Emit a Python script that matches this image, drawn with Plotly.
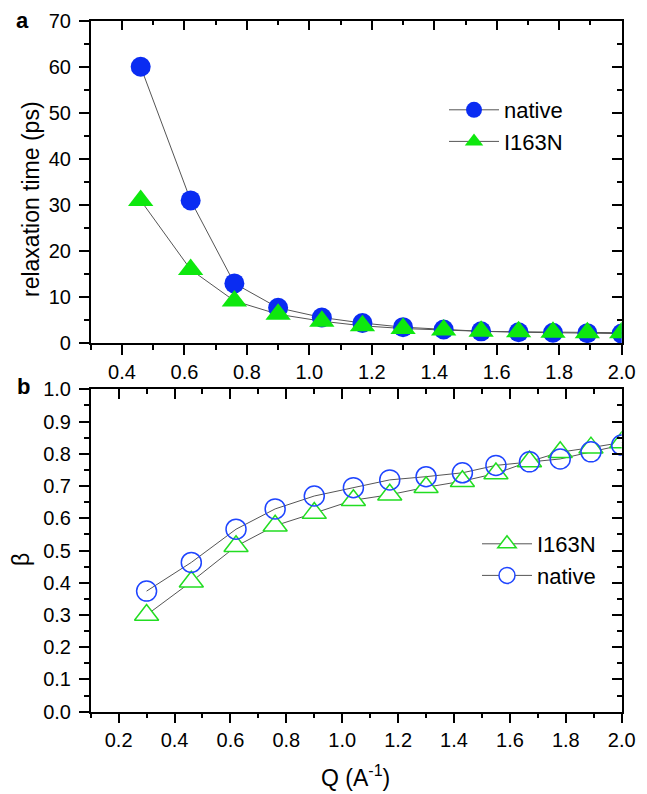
import plotly.graph_objects as go

# Scattering vector Q (A^-1)
q_tau = [0.46, 0.62, 0.76, 0.90, 1.04, 1.17, 1.30, 1.43, 1.55, 1.67, 1.78, 1.89, 2.00]
q_beta = [0.30, 0.46, 0.62, 0.76, 0.90, 1.04, 1.17, 1.30, 1.43, 1.55, 1.67, 1.78, 1.89, 2.00]

# Relaxation times (ps)
tau_native = [60.0, 31.0, 13.0, 7.7, 5.6, 4.4, 3.5, 3.0, 2.6, 2.4, 2.3, 2.2, 2.1]
tau_i163n = [31.0, 16.0, 9.2, 6.3, 4.8, 3.8, 3.2, 2.9, 2.6, 2.5, 2.4, 2.3, 2.3]

# Stretching exponent beta
beta_native = [0.374, 0.463, 0.566, 0.629, 0.669, 0.695, 0.719, 0.729, 0.741, 0.764, 0.775, 0.784, 0.806, 0.827]
beta_i163n = [0.300, 0.403, 0.513, 0.577, 0.616, 0.656, 0.673, 0.696, 0.715, 0.739, 0.776, 0.805, 0.819, 0.835]

W, H = 647, 794
FONT = "Arial, Liberation Sans, sans-serif"
BLUE = "#0a2cf2"
GREEN = "#0ee80e"
BLUE_O = "#1f45ff"
GREEN_O = "#22dd22"
LINE = "#555555"


def px_x(v):
    return v / W


def px_y(v):
    return 1 - v / H


fig = go.Figure()

# ---- panel a: relaxation time ----
for yv in (tau_native, tau_i163n):
    fig.add_trace(go.Scatter(x=q_tau, y=yv, mode="lines", line=dict(color=LINE, width=1),
                             showlegend=False, hoverinfo="skip", xaxis="x", yaxis="y"))
fig.add_trace(go.Scatter(x=q_tau, y=tau_native, mode="markers",
                         marker=dict(symbol="circle", size=20, color=BLUE, line=dict(width=0)),
                         showlegend=False, xaxis="x", yaxis="y"))
fig.add_trace(go.Scatter(x=q_tau, y=tau_i163n, mode="markers",
                         marker=dict(symbol="triangle-up", size=22, color=GREEN, line=dict(width=0)),
                         showlegend=False, xaxis="x", yaxis="y"))
fig.add_trace(go.Scatter(x=[None], y=[None], mode="lines+markers", name="native",
                         line=dict(color=LINE, width=1),
                         marker=dict(symbol="circle", size=20, color=BLUE, line=dict(width=0)),
                         legend="legend", xaxis="x", yaxis="y"))
fig.add_trace(go.Scatter(x=[None], y=[None], mode="lines+markers", name="I163N",
                         line=dict(color=LINE, width=1),
                         marker=dict(symbol="triangle-up", size=22, color=GREEN, line=dict(width=0)),
                         legend="legend", xaxis="x", yaxis="y"))

# ---- panel b: stretching exponent ----
for yv in (beta_i163n, beta_native):
    fig.add_trace(go.Scatter(x=q_beta, y=yv, mode="lines", line=dict(color=LINE, width=1),
                             showlegend=False, hoverinfo="skip", xaxis="x2", yaxis="y2"))
fig.add_trace(go.Scatter(x=q_beta, y=beta_i163n, mode="markers",
                         marker=dict(symbol="triangle-up", size=21, color="white",
                                     line=dict(color=GREEN_O, width=1.5)),
                         showlegend=False, xaxis="x2", yaxis="y2"))
fig.add_trace(go.Scatter(x=q_beta, y=beta_native, mode="markers",
                         marker=dict(symbol="circle", size=20, color="rgba(255,255,255,0)",
                                     line=dict(color=BLUE_O, width=1.5)),
                         showlegend=False, xaxis="x2", yaxis="y2"))
fig.add_trace(go.Scatter(x=[None], y=[None], mode="lines+markers", name="I163N",
                         line=dict(color=LINE, width=1),
                         marker=dict(symbol="triangle-up", size=21, color="white",
                                     line=dict(color=GREEN_O, width=1.5)),
                         legend="legend2", xaxis="x2", yaxis="y2"))
fig.add_trace(go.Scatter(x=[None], y=[None], mode="lines+markers", name="native",
                         line=dict(color=LINE, width=1),
                         marker=dict(symbol="circle", size=20, color="white",
                                     line=dict(color=BLUE_O, width=1.5)),
                         legend="legend2", xaxis="x2", yaxis="y2"))

# carrier traces for the inward ticks on the top / right frame edges
fig.add_trace(go.Scatter(x=[None], y=[None], showlegend=False, hoverinfo="skip", xaxis="x3", yaxis="y3"))
fig.add_trace(go.Scatter(x=[None], y=[None], showlegend=False, hoverinfo="skip", xaxis="x4", yaxis="y4"))

dom_x = [px_x(90.7), px_x(621.7)]
dom_a = [px_y(343.3), px_y(20.7)]
dom_b = [px_y(711.7), px_y(389.3)]


def axis(rng, dtick, mdtick, ticks="outside", labels=True, **kw):
    d = dict(range=rng, dtick=dtick, tick0=0, ticks=ticks, ticklen=10, tickwidth=1.5,
             tickcolor="black", showline=True, linewidth=1.5, linecolor="black",
             showgrid=False, zeroline=False, showticklabels=labels, automargin=False,
             tickfont=dict(family=FONT, size=20, color="black"),
             minor=dict(dtick=mdtick, ticks=ticks, ticklen=5, tickwidth=1.5, tickcolor="black",
                        showgrid=False))
    d.update(kw)
    return d


fig.update_layout(
    width=W, height=H,
    margin=dict(l=0, r=0, t=0, b=0),
    paper_bgcolor="white", plot_bgcolor="white",
    font=dict(family=FONT, color="black"),
    hovermode=False,
    xaxis=axis([0.3, 2.0], 0.2, 0.1, domain=dom_x, anchor="y", tickformat=".1f"),
    yaxis=axis([0, 70], 10, 5, domain=dom_a, anchor="x", ticklabelstandoff=4),
    xaxis2=axis([0.1, 2.0], 0.2, 0.1, domain=dom_x, anchor="y2", tickformat=".1f"),
    yaxis2=axis([0, 1.0], 0.1, 0.05, domain=dom_b, anchor="x2", tickformat=".1f",
                ticklabelstandoff=4),
    xaxis3=axis([0.3, 2.0], 0.2, 0.1, ticks="inside", labels=False, overlaying="x",
                side="top", anchor="y"),
    yaxis3=axis([0, 70], 10, 5, ticks="inside", labels=False, overlaying="y",
                side="right", anchor="x"),
    xaxis4=axis([0.1, 2.0], 0.2, 0.1, ticks="inside", labels=False, overlaying="x2",
                side="top", anchor="y2"),
    yaxis4=axis([0, 1.0], 0.1, 0.05, ticks="inside", labels=False, overlaying="y2",
                side="right", anchor="x2"),
    legend=dict(x=px_x(444), y=px_y(89), xanchor="left", yanchor="top",
                bgcolor="rgba(0,0,0,0)", borderwidth=0, itemwidth=50,
                font=dict(family=FONT, size=22, color="black"), tracegroupgap=0),
    legend2=dict(x=px_x(477), y=px_y(523), xanchor="left", yanchor="top",
                 bgcolor="rgba(0,0,0,0)", borderwidth=0, itemwidth=50,
                 font=dict(family=FONT, size=22, color="black"), tracegroupgap=0),
    annotations=[
        dict(text="a", x=px_x(22.5), y=px_y(20), xref="paper", yref="paper",
             showarrow=False, xanchor="center", yanchor="middle",
             font=dict(family=FONT, size=22, color="black", weight="bold")),
        dict(text="b", x=px_x(23), y=px_y(386), xref="paper", yref="paper",
             showarrow=False, xanchor="center", yanchor="middle",
             font=dict(family=FONT, size=22, color="black", weight="bold")),
        dict(text="relaxation time (ps)", x=px_x(31.5), y=px_y(199.5), xref="paper", yref="paper",
             showarrow=False, xanchor="center", yanchor="middle", textangle=-90,
             font=dict(family=FONT, size=23, color="black")),
        dict(text="β", x=px_x(21), y=px_y(560), xref="paper", yref="paper",
             showarrow=False, xanchor="center", yanchor="middle", textangle=-90,
             font=dict(family=FONT, size=23, color="black")),
        dict(text="Q (A<sup>-1</sup>)", x=px_x(355), y=px_y(776), xref="paper", yref="paper",
             showarrow=False, xanchor="center", yanchor="middle",
             font=dict(family=FONT, size=23, color="black")),
    ],
)

fig.write_html("out.html")
